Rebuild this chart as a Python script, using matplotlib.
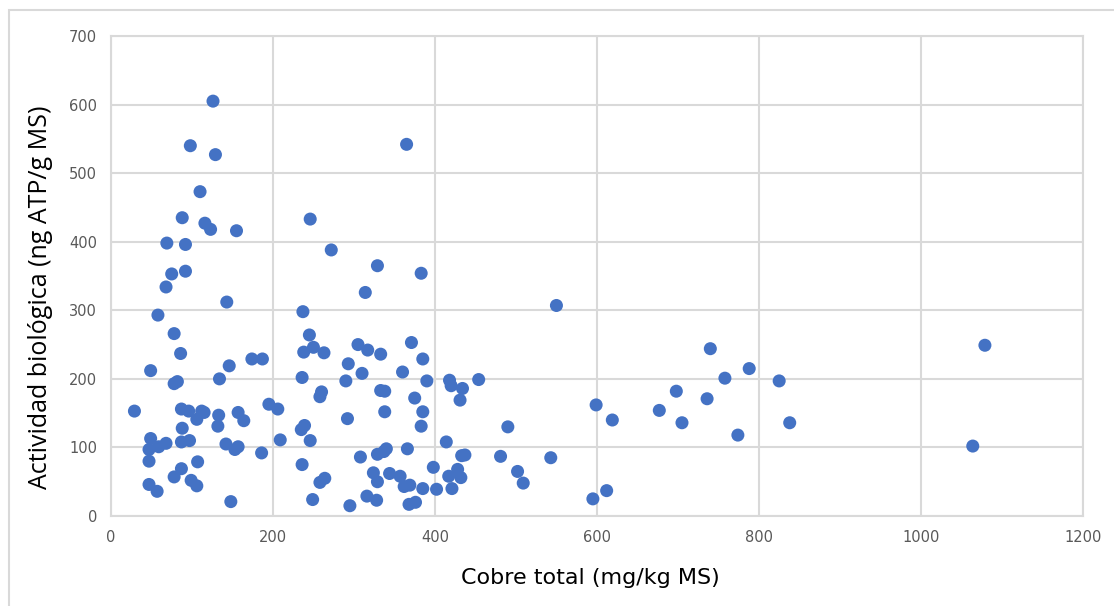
import matplotlib.pyplot as plt
from matplotlib.patches import Rectangle

# Cobre total (mg/kg MS) vs actividad biológica (ng ATP/g MS)
cobre = [126, 98, 129, 110, 88, 116, 123, 155, 69, 92, 75, 92, 68, 143,
         58, 78, 86, 49, 146, 174, 187, 78, 82, 134, 29, 87, 96, 106, 112,
         115, 133, 132, 157, 164, 195, 206, 88, 49, 47, 59, 68, 87, 97, 142,
         153, 157, 186, 209, 47, 107, 87, 78, 99, 106, 47, 57, 148,
         365, 246, 272, 329, 383, 314, 237, 245, 238, 250, 263, 305, 317,
         333, 371, 385, 293, 310, 360, 236, 290, 390, 418, 420, 434, 454,
         431, 260, 258, 333, 338, 375, 338, 385, 292, 383, 239, 235, 246,
         414, 366, 340, 329, 337, 308, 433, 437, 236, 398, 324, 329, 344,
         357, 362, 369, 385, 402, 417, 428, 432, 421, 264, 258, 249, 295,
         316, 328, 368, 376,
         550, 740, 788, 758, 825, 698, 736, 677, 705, 838, 774, 599, 619,
         490, 481, 543, 502, 509, 595, 612, 1079, 1064]
actividad = [605, 540, 527, 473, 435, 427, 418, 416, 398, 396, 353, 357, 334, 312,
             293, 266, 237, 212, 219, 229, 229, 193, 196, 200, 153, 156, 153, 141, 153,
             151, 147, 131, 151, 139, 163, 156, 128, 113, 97, 101, 106, 108, 110, 105,
             97, 101, 92, 111, 80, 79, 69, 57, 52, 44, 46, 36, 21,
             542, 433, 388, 365, 354, 326, 298, 264, 239, 246, 238, 250, 242,
             236, 253, 229, 222, 208, 210, 202, 197, 197, 198, 190, 186, 199,
             169, 181, 174, 183, 182, 172, 152, 152, 142, 131, 132, 126, 110,
             108, 98, 98, 90, 94, 86, 88, 89, 75, 71, 63, 50, 62,
             58, 43, 45, 40, 39, 58, 68, 56, 40, 55, 49, 24, 15,
             29, 23, 17, 20,
             307, 244, 215, 201, 197, 182, 171, 154, 136, 136, 118, 162, 140,
             130, 87, 85, 65, 48, 25, 37, 249, 102]

xticks = [0, 200, 400, 600, 800, 1000, 1200]
yticks = [0, 100, 200, 300, 400, 500, 600, 700]

fig = plt.figure(figsize=(11.14, 6.06), dpi=100)
ax = fig.add_axes([0.0996, 0.1485, 0.8725, 0.7921])

ax.scatter(cobre, actividad, s=88, color='#4472C4', edgecolors='none',
           zorder=3, clip_on=False)

ax.set_xlim(0, 1200)
ax.set_ylim(0, 700)
ax.set_xticks(xticks)
ax.set_yticks(yticks)
ax.grid(True, color='#D9D9D9', linewidth=1.5, zorder=0)
for s in ax.spines.values():
    s.set_color('#D9D9D9')
    s.set_linewidth(1.5)
ax.tick_params(length=0, labelsize=10.5, labelcolor='#595959', pad=10)

ax.set_xlabel('Cobre total (mg/kg MS)', fontsize=16, color='#000000',
              va='center')
ax.xaxis.set_label_coords(0.493, -0.129)
ax.set_ylabel('Actividad biológica (ng ATP/g MS)', fontsize=18, color='#000000',
              family=['Open Sans', 'DejaVu Sans'], va='center')
ax.yaxis.set_label_coords(-0.073, 0.456)

# outer chart border
fig.patches.append(Rectangle((9 / 1114, -0.05), 1.0, 1.05 - 10 / 606, transform=fig.transFigure,
                             fill=False, edgecolor='#D9D9D9', linewidth=1.5))

fig.savefig('out.png', dpi=100)
